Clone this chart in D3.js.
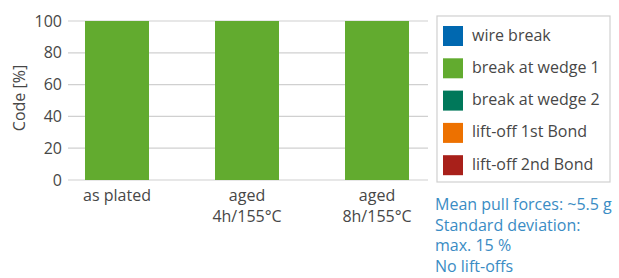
<!DOCTYPE html>
<html><head><meta charset="utf-8">
<script src="https://cdn.jsdelivr.net/npm/d3@7"></script>
<style>
body{margin:0;background:#fff;}
svg{display:block;font-family:"Open Sans",sans-serif;}
</style></head><body>
<svg id="c" width="619" height="278"></svg>
<script>
const categories = [["as plated"], ["aged", "4h/155°C"], ["aged", "8h/155°C"]];
const seriesNames = ["wire break", "break at wedge 1", "break at wedge 2", "lift-off 1st Bond", "lift-off 2nd Bond"];
const seriesColors = ["#0068b0", "#62ab2f", "#00785a", "#ed7100", "#a8201a"];
const wireBreak = [0, 0, 0];
const wedge1 = [100, 100, 100];
const wedge2 = [0, 0, 0];
const lift1 = [0, 0, 0];
const lift2 = [0, 0, 0];
const yTicks = [0, 20, 40, 60, 80, 100];
const notes = ["Mean pull forces: ~5.5 g", "Standard deviation:", "max. 15 %", "No lift-offs"];

const svg = d3.select("#c");
const textColor = "#474747";
const series = [wireBreak, wedge1, wedge2, lift1, lift2];

const x = d3.scaleBand().domain(d3.range(categories.length)).range([52, 442]).paddingInner(0.5077).paddingOuter(0.2538);
const y = d3.scaleLinear().domain([0, 100]).range([180, 21]);

// gridlines
svg.append("g").selectAll("line").data(yTicks).join("line")
  .attr("x1", 68).attr("x2", 428)
  .attr("y1", d => y(d)).attr("y2", d => y(d))
  .attr("stroke", "#d0d0d0").attr("stroke-width", 1.2);

// y axis
const yAxis = d3.axisLeft(y).tickValues(yTicks).tickSize(0).tickPadding(6);
const ga = svg.append("g").attr("transform", "translate(68,0)").call(yAxis);
ga.select(".domain").remove();
ga.selectAll("text").attr("font-size", 16).attr("fill", textColor).attr("font-family", "Open Sans");

svg.append("text").attr("transform", "translate(25,98) rotate(-90)")
  .attr("text-anchor", "middle").attr("font-size", 16).attr("fill", textColor).text("Code [%]");

// stacked bars
const stackData = categories.map((c, i) => {
  const o = {i};
  series.forEach((s, k) => o[k] = s[i]);
  return o;
});
const stack = d3.stack().keys(d3.range(series.length))(stackData);
svg.append("g").selectAll("g").data(stack).join("g")
  .attr("fill", (d, k) => seriesColors[k])
  .selectAll("rect").data(d => d).join("rect")
  .attr("x", d => x(d.data.i)).attr("width", x.bandwidth())
  .attr("y", d => y(d[1])).attr("height", d => y(d[0]) - y(d[1]));

// category labels
const cl = svg.append("g").selectAll("text").data(categories).join("text")
  .attr("text-anchor", "middle").attr("font-size", 16).attr("fill", textColor)
  .attr("transform", (d, i) => `translate(${x(i) + x.bandwidth() / 2},201)`);
cl.selectAll("tspan").data(d => d).join("tspan")
  .attr("x", 0).attr("dy", (d, j) => j === 0 ? 0 : 21).text(d => d);

// legend
const lg = svg.append("g");
lg.append("rect").attr("x", 437).attr("y", 16).attr("width", 173).attr("height", 166)
  .attr("fill", "#fff").attr("stroke", "#d0d0d0").attr("stroke-width", 1.2);
const li = lg.selectAll("g.item").data(seriesNames).join("g").attr("class", "item")
  .attr("transform", (d, k) => `translate(443,${26 + k * 32.3})`);
li.append("rect").attr("width", 20).attr("height", 20).attr("fill", (d, k) => seriesColors[k]);
li.append("text").attr("x", 29).attr("y", 14.5).attr("font-size", 16).attr("fill", textColor).text(d => d);

// notes
svg.append("g").selectAll("text").data(notes).join("text")
  .attr("x", 435).attr("y", (d, i) => 210 + i * 20.5)
  .attr("font-size", 16).attr("fill", "#3a8cc4").text(d => d);
</script>
</body></html>
